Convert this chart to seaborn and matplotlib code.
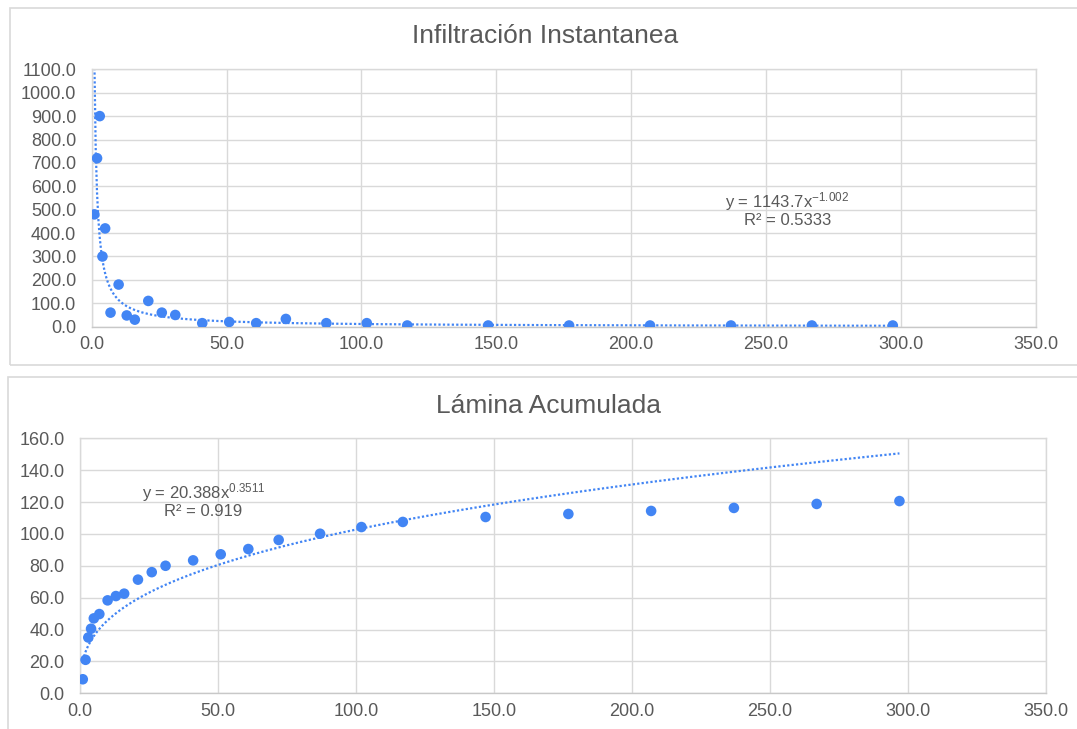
import numpy as np
import pandas as pd
import matplotlib
matplotlib.use("Agg")
import matplotlib.pyplot as plt
from matplotlib.patches import Rectangle
import seaborn as sns

# ---- data ----
tiempo = [1, 2, 3, 4, 5, 7, 10, 13, 16, 21, 26, 31, 41, 51, 61, 72, 87, 102,
          117, 147, 177, 207, 237, 267, 297]
infiltracion = [480, 720, 900, 300, 420, 60, 180, 48, 30, 110, 60, 50, 15, 20,
                15, 33, 15, 15, 5, 5, 5, 5, 5, 5, 5]
lamina = [8.8, 21.0, 35.0, 40.5, 47.0, 49.7, 58.3, 61.0, 62.5, 71.3, 76.0, 80.0,
          83.4, 87.2, 90.5, 96.2, 100.1, 104.3, 107.5, 110.6, 112.5, 114.4,
          116.3, 118.8, 120.6]
# power trendlines (coefficient, exponent, R²)
trend_inf = (1143.7, -1.002, 0.5333)
trend_lam = (20.388, 0.3511, 0.919)
titles = ["Infiltración Instantanea", "Lámina Acumulada"]

sns.set_style("white")
plt.rcParams['font.family'] = ['Liberation Sans', 'DejaVu Sans']
plt.rcParams['mathtext.fontset'] = 'custom'
plt.rcParams['mathtext.rm'] = 'Liberation Sans'
plt.rcParams['mathtext.it'] = 'Liberation Sans'

BLUE = "#4285F4"
GRID = "#d9d9d9"
TXT = "#595959"

fig = plt.figure(figsize=(10.77, 7.29), dpi=100)
W, H = 1077, 729

# panel borders
fig.patches.append(Rectangle((10 / W, 1 - 365 / H), 1.2, (365 - 8) / H,
                             transform=fig.transFigure, fill=False,
                             edgecolor=GRID, lw=1.2))
fig.patches.append(Rectangle((8 / W, -0.1), 1.2, 0.1 + (729 - 377) / H,
                             transform=fig.transFigure, fill=False,
                             edgecolor=GRID, lw=1.2))

ax1 = fig.add_axes([0.0851, 0.5519, 0.8766, 0.3530])
ax2 = fig.add_axes([0.0743, 0.0490, 0.8966, 0.3498])

df = pd.DataFrame({"t": tiempo, "inf": infiltracion, "lam": lamina})

tt = np.linspace(1.0, 297, 600)
df1 = pd.DataFrame({"t": tt, "y": trend_inf[0] * tt ** trend_inf[1]})
df2 = pd.DataFrame({"t": tt, "y": trend_lam[0] * tt ** trend_lam[1]})

for ax, col, dtr, ylim, ystep in [(ax1, "inf", df1, 1100, 100),
                                   (ax2, "lam", df2, 160, 20)]:
    sns.lineplot(data=dtr, x="t", y="y", ax=ax, color=BLUE, lw=1.6,
                 linestyle=(0, (1, 1)), zorder=2)
    sns.scatterplot(data=df, x="t", y=col, ax=ax, color=BLUE, s=58,
                    edgecolor="none", zorder=3)
    ax.set_xlim(0, 350)
    ax.set_ylim(0, ylim)
    ax.set_xticks(np.arange(0, 351, 50))
    ax.set_yticks(np.arange(0, ylim + 1, ystep))
    ax.set_xticklabels([f"{v:.1f}" for v in np.arange(0, 351, 50)])
    ax.set_yticklabels([f"{v:.1f}" for v in np.arange(0, ylim + 1, ystep)])
    ax.set_xlabel("")
    ax.set_ylabel("")
    ax.grid(True, color=GRID, lw=1.0)
    ax.set_axisbelow(True)
    for s in ax.spines.values():
        s.set_color(GRID)
        s.set_linewidth(1.0)
    ax.spines['bottom'].set_color("#c8c8c8")
    ax.tick_params(axis='both', length=0, labelsize=13, colors=TXT)
    ax.tick_params(axis='x', pad=7)
    ax.tick_params(axis='y', pad=11)

fig.text(0.506, 0.9506, titles[0], ha='center', va='center', fontsize=19,
         color=TXT)
fig.text(0.509, 0.4435, titles[1], ha='center', va='center', fontsize=19,
         color=TXT)

ax1.text(0.737, 0.457,
         f"y = {trend_inf[0]}x$^{{{trend_inf[1]}}}$\nR² = {trend_inf[2]}",
         transform=ax1.transAxes, ha='center', va='center', fontsize=12,
         color=TXT, multialignment='center', linespacing=1.0)
ax2.text(0.128, 0.758,
         f"y = {trend_lam[0]}x$^{{{trend_lam[1]}}}$\nR² = {trend_lam[2]}",
         transform=ax2.transAxes, ha='center', va='center', fontsize=12,
         color=TXT, multialignment='center', linespacing=1.0)

fig.savefig("out.png", dpi=100)
